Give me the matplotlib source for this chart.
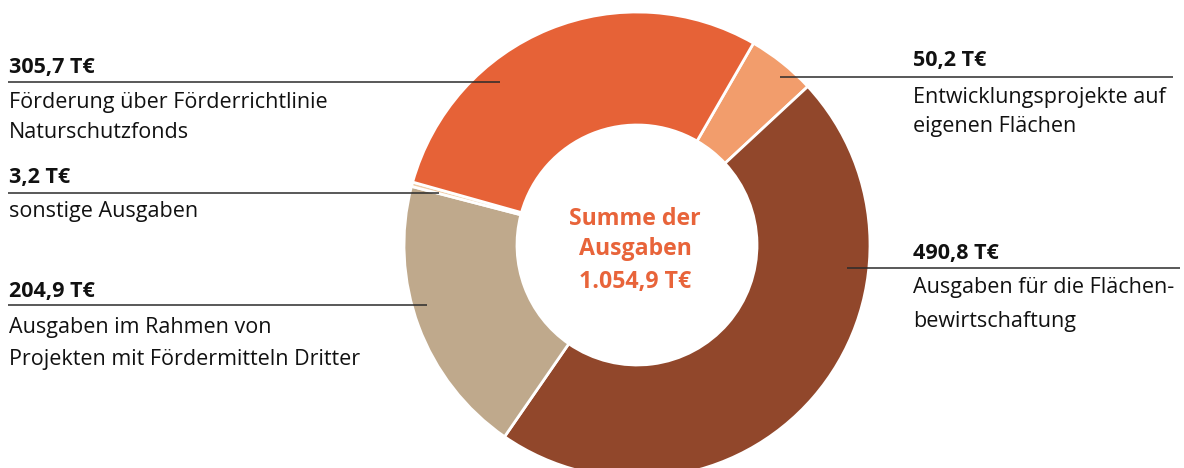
import matplotlib.pyplot as plt
from matplotlib import font_manager

# values in T€ (clockwise, starting at the small top-right wedge)
labels = [
    'Entwicklungsprojekte auf\neigenen Flächen',
    'Ausgaben für die Flächen-\nbewirtschaftung',
    'Ausgaben im Rahmen von\nProjekten mit Fördermitteln Dritter',
    'sonstige Ausgaben',
    'Förderung über Förderrichtlinie\nNaturschutzfonds',
]
values = [50.2, 490.8, 204.9, 3.2, 305.7]
value_texts = ['50,2 T€', '490,8 T€', '204,9 T€', '3,2 T€', '305,7 T€']
colors = ['#F29D6C', '#91472B', '#BFA98C', '#EFCBA5', '#E66237']
total_text = 'Summe der\nAusgaben\n1.054,9 T€'

W, H = 1184, 468

# pick a condensed font if there is one
names = {f.name for f in font_manager.fontManager.ttflist}
if 'Liberation Sans Narrow' in names:
    family, fs = 'Liberation Sans Narrow', 16.5
else:
    family, fs = 'Open Sans', 15.5

fig = plt.figure(figsize=(W / 100, H / 100), dpi=100)
ax = fig.add_axes([0, 0, 1, 1])

cx, cy, r = 637, H - 245, 233
ax.pie(values, colors=colors, startangle=60, counterclock=False,
       center=(cx, cy), radius=r,
       wedgeprops=dict(width=113, edgecolor='white', linewidth=2))

ax.set_xlim(0, W)
ax.set_ylim(0, H)
ax.set_aspect('equal')
ax.set_axis_off()


def py(y):
    return H - y


# label layout: (text x, value baseline, leader y, leader x0, leader x1, line baselines)
layout = [
    (913, 66, 77, 780, 1173, [103, 132]),
    (913, 259, 268, 847, 1180, [293, 327]),
    (9, 297, 305, 8, 427, [333, 365]),
    (9, 183, 193, 8, 439, [217]),
    (9, 73, 82, 8, 500, [108, 138]),
]

for (tx, vy, ly, x0, x1, rows), val, lab in zip(layout, value_texts, labels):
    ax.plot([x0, x1], [py(ly), py(ly)], color='#2b2b2b', lw=1.1, solid_capstyle='butt')
    ax.text(tx, py(vy), val, fontsize=fs, fontweight='bold', family=family,
            color='#111111', va='baseline', ha='left')
    for row, text in zip(rows, lab.split('\n')):
        ax.text(tx, py(row), text, fontsize=fs, family=family,
                color='#111111', va='baseline', ha='left')

for row, text in zip([225, 255, 288], total_text.split('\n')):
    ax.text(635, py(row), text, fontsize=fs + 1.2, fontweight='bold', family=family,
            color='#E8643A', va='baseline', ha='center')

fig.savefig('out.png', dpi=100)
